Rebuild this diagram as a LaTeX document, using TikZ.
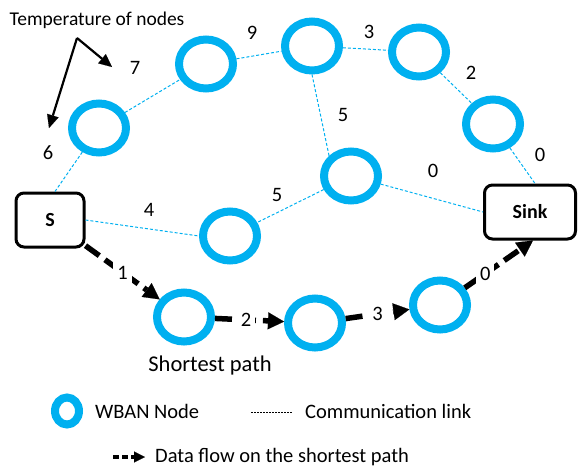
\documentclass[tikz,border=0pt]{standalone}
\usepackage{fontspec}
\setmainfont{Carlito}
\usetikzlibrary{shapes.geometric,arrows.meta}
\definecolor{wban}{HTML}{00B0F0}
\begin{document}
\begin{tikzpicture}[x=1pt,y=-1pt,
  wnode/.style={draw=wban,line width=8pt,ellipse,minimum width=54pt,minimum height=49pt,inner sep=0pt},
  endbox/.style={draw=black,line width=3pt,rounded corners=8pt,minimum height=54pt,inner sep=0pt,
    font=\bfseries\fontsize{20}{24}\selectfont},
  link/.style={draw=wban,line width=1pt,dash pattern=on 3pt off 2pt},
  flow/.style={draw=black,line width=5.5pt,dash pattern=on 17pt off 7pt,
    -{Triangle[length=16pt,width=17pt,line width=0.1pt]}},
  num/.style={font=\fontsize{20.5}{24}\selectfont,inner sep=1pt},
  flownum/.style={num,fill=white,inner sep=4pt},
  txt/.style={font=\fontsize{20.5}{24}\selectfont,inner sep=0pt},
  pointer/.style={draw=black,line width=2.2pt,-{Triangle[length=13pt,width=12pt,line width=0.1pt]}}
]
\useasboundingbox (0,0) rectangle (578,469);

% network nodes
\node[endbox,minimum width=68pt] (S) at (50,220) {S};
\node[endbox,minimum width=91pt] (Sink) at (530,212) {Sink};
\node[wnode] (A) at (99,128) {};
\node[wnode] (B) at (206,64) {};
\node[wnode] (C) at (312,46) {};
\node[wnode] (D) at (419,52) {};
\node[wnode] (E) at (493,124) {};
\node[wnode] (F) at (351,176) {};
\node[wnode] (G) at (230,236) {};
\node[wnode] (P1) at (184,317) {};
\node[wnode] (P2) at (315,323) {};
\node[wnode] (P3) at (440,305) {};

% communication links
\draw[link] ([xshift=5pt]S.north) -- (A);
\draw[link] (A) -- (B);
\draw[link] (B) -- (C);
\draw[link] (C) -- (D);
\draw[link] (D) -- (E);
\draw[link] (E) -- ([xshift=5pt]Sink.north);
\draw[link] (C.south) -- (F.north west);
\draw[link] (F) -- (G);
\draw[link] (F) -- (Sink.west);
\draw[link] (S.east) -- (G.west);

% temperature labels
\node[num] (t7) at (135,68) {7};
\node[num] (t6) at (48,153) {6};
\node[num] (t9) at (252,33) {9};
\node[num] (t3) at (369,32) {3};
\node[num] (t2) at (471,73) {2};
\node[num] (t5a) at (343,115) {5};
\node[num] (t0a) at (540,155) {0};
\node[num] (t0b) at (433,171) {0};
\node[num] (t4) at (149,210) {4};
\node[num] (t5b) at (277,195) {5};

% data flow on the shortest path
\draw[flow] (S) -- (P1) node[flownum,pos=0.5] {1};
\draw[flow] (P1) -- (P2) node[flownum,pos=0.45] {2};
\draw[flow] (P2) -- (P3) node[flownum,pos=0.5] {3};
\draw[flow] (P3) -- ([xshift=3pt]Sink.south) node[flownum,pos=0.3] {0};

\node[font=\fontsize{22.5}{26}\selectfont,inner sep=0pt] (sp) at (210,365) {Shortest path};

% annotation
\node[font=\fontsize{19.5}{24}\selectfont,inner sep=0pt] (temp) at (97,20) {Temperature of nodes};
\coordinate (tv) at (77,38);
\coordinate (tend7) at (112,67);
\coordinate (tend6) at (49,128);
\draw[pointer] (tv) -- (tend7);
\draw[pointer] (tv) -- (tend6);

% legend
\node[draw=wban,line width=8pt,ellipse,minimum width=24pt,minimum height=27pt,inner sep=0pt] (lw) at (67,411) {};
\node[txt,anchor=west] (lwt) at (95,411) {WBAN Node};
\coordinate (lc1) at (251,412);
\coordinate (lc2) at (292,412);
\draw[black,line width=0.8pt,dash pattern=on 2pt off 1pt] (lc1) -- (lc2);
\node[txt,anchor=west] (lct) at (305,411) {Communication link};
\coordinate (lf1) at (113,457);
\coordinate (lf2) at (145,457);
\draw[black,line width=3.5pt,dash pattern=on 6pt off 3pt,-{Triangle[length=11pt,width=11pt,line width=0.1pt]}] (lf1) -- (lf2);
\node[txt,anchor=west] (lft) at (155,457) {Data flow on the shortest path};
\end{tikzpicture}
\end{document}
